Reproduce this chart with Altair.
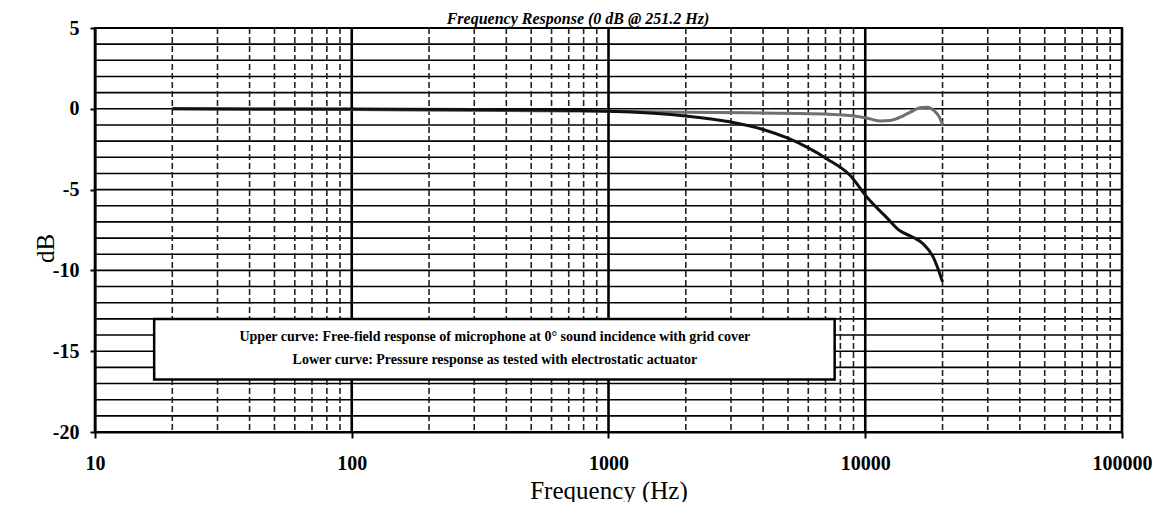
import altair as alt
import pandas as pd

# ---- data ----
upper_freq = [20, 100, 300, 1000, 2000, 3500, 6000, 8700, 10000, 11400, 12500,
              14000, 15000, 16500, 17500, 18500, 19500, 20000]
upper_db = [0.0, -0.05, -0.1, -0.15, -0.22, -0.25, -0.3, -0.42, -0.55, -0.75, -0.72,
            -0.45, -0.2, 0.08, 0.1, -0.1, -0.55, -1.0]

lower_freq = [20, 100, 300, 1000, 1500, 2000, 3000, 4000, 5000, 6000, 7100, 8700,
              10200, 12150, 13650, 15350, 16800, 18360, 20000]
lower_db = [0.0, -0.02, -0.05, -0.15, -0.28, -0.45, -0.82, -1.28, -1.82, -2.42, -3.1, -4.1,
            -5.5, -6.75, -7.55, -7.95, -8.35, -9.15, -10.7]

x_tick_values = [10, 100, 1000, 10000, 100000]
x_minor_values = [20, 30, 40, 50, 60, 70, 80, 90,
                  200, 300, 400, 500, 600, 700, 800, 900,
                  2000, 3000, 4000, 5000, 6000, 7000, 8000, 9000,
                  20000, 30000, 40000, 50000, 60000, 70000, 80000, 90000]
y_tick_values = [-20, -15, -10, -5, 0, 5]
y_grid_values = [-19, -18, -17, -16, -15, -14, -13, -12, -11, -10, -9, -8, -7, -6,
                 -5, -4, -3, -2, -1, 0, 1, 2, 3, 4]

title_text = "Frequency Response (0 dB @ 251.2 Hz)"
note_lines = ["Upper curve: Free-field response of microphone at 0\u00b0 sound incidence with grid cover",
              "Lower curve: Pressure response as tested with electrostatic actuator"]
note_line_db = [-14.1, -15.55]
note_center_freq = 361
note_box = {"f1": 17, "f2": 7600, "d1": -13.0, "d2": -16.75}

FONT = "Liberation Serif"

xs = alt.Scale(type="log", domain=[10, 100000], nice=False)
ys = alt.Scale(domain=[-20, 5], nice=False, zero=False)

x_axis = alt.Axis(values=x_tick_values, labelExpr="'' + datum.value", grid=False,
                  tickSize=6, tickColor="black", tickWidth=2, domainColor="black",
                  domainWidth=2, labelFont=FONT, labelFontSize=20, labelFontWeight="bold",
                  labelColor="black", labelPadding=15, title="Frequency (Hz)",
                  titleFont=FONT, titleFontSize=25, titleFontWeight="normal",
                  titleColor="black", titleY=66, titleBaseline="alphabetic",
                  labelFlush=False)
y_axis = alt.Axis(values=y_tick_values, labelExpr="'' + datum.value", grid=False,
                  tickSize=5, tickColor="black", tickWidth=2, domainColor="black",
                  domainWidth=2, labelFont=FONT, labelFontSize=20, labelFontWeight="bold",
                  labelColor="black", labelPadding=11, title="dB", titleFont=FONT,
                  titleFontSize=25, titleFontWeight="normal", titleColor="black",
                  titleX=-50, titleY=220, titleAngle=-90, titleBaseline="middle",
                  labelFlush=False)


def X(field):
    return alt.X(f"{field}:Q", scale=xs, axis=x_axis)


def Y(field):
    return alt.Y(f"{field}:Q", scale=ys, axis=y_axis)


hgrid = alt.Chart(pd.DataFrame({"v": y_grid_values})).mark_rule(
    color="black", strokeWidth=1.6).encode(y=Y("v"))
vminor = alt.Chart(pd.DataFrame({"f": x_minor_values})).mark_rule(
    color="#222", strokeWidth=1.6, strokeDash=[6, 3]).encode(x=X("f"))
vmajor = alt.Chart(pd.DataFrame({"f": x_tick_values})).mark_rule(
    color="black", strokeWidth=2.6).encode(x=X("f"))

upper = alt.Chart(pd.DataFrame({"f": upper_freq, "db": upper_db})).mark_line(
    color="#707070", strokeWidth=3, interpolate="monotone").encode(x=X("f"), y=Y("db"))
lower = alt.Chart(pd.DataFrame({"f": lower_freq, "db": lower_db})).mark_line(
    color="#111111", strokeWidth=3, interpolate="monotone").encode(x=X("f"), y=Y("db"))

box = alt.Chart(pd.DataFrame([note_box])).mark_rect(
    fill="white", stroke="black", strokeWidth=2.5).encode(
    x=X("f1"), x2="f2", y=Y("d1"), y2="d2")

notes = alt.Chart(pd.DataFrame({"t": note_lines, "db": note_line_db,
                                "f": [note_center_freq] * 2})).mark_text(
    font=FONT, fontSize=14, fontWeight="bold", color="black", align="center",
    baseline="middle").encode(x=X("f"), y=Y("db"), text="t:N")

title = alt.Chart(pd.DataFrame({"t": [title_text]})).mark_text(
    font=FONT, fontSize=16, fontStyle="italic", fontWeight="bold", color="black",
    align="center", baseline="alphabetic").encode(
    x=alt.value(483), y=alt.value(-4), text="t:N")

chart = alt.layer(hgrid, vminor, vmajor, upper, lower, box, notes, title).properties(
    width=1027, height=404,
    padding={"left": 87, "top": 20, "right": 30, "bottom": 70},
    autosize=alt.AutoSizeParams(type="none"),
    background="white",
).configure_view(stroke="black", strokeWidth=2)

chart.save("out.html", embed_options={"renderer": "svg", "actions": False})
